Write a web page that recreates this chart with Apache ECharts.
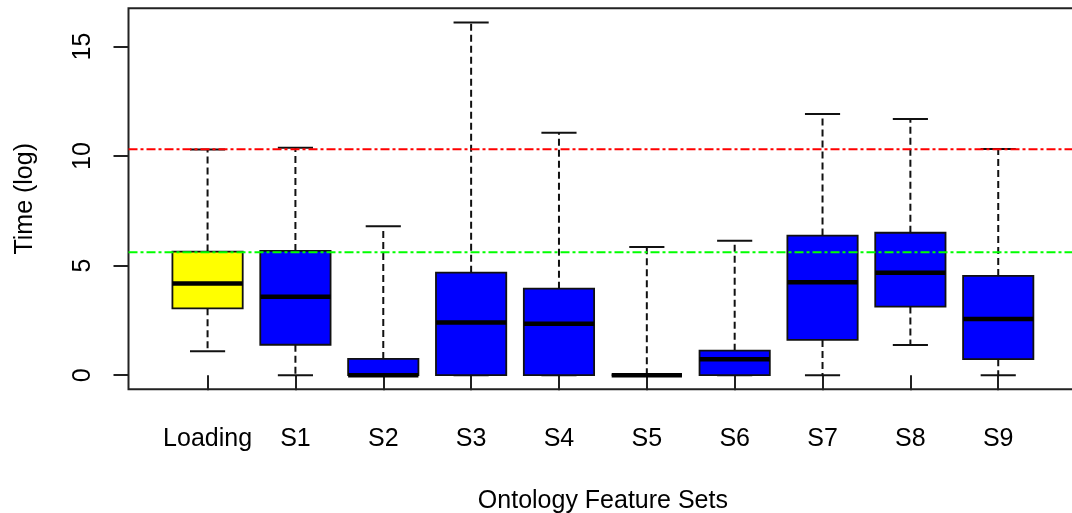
<!DOCTYPE html>
<html>
<head>
<meta charset="utf-8">
<script src="https://cdn.jsdelivr.net/npm/echarts@6/dist/echarts.min.js"></script>
<style>
html,body{margin:0;padding:0;background:#fff;}
#chart{width:1072px;height:513px;}
</style>
</head>
<body>
<div id="chart"></div>
<script>
// ---- data ----
const categories = ['Loading','S1','S2','S3','S4','S5','S6','S7','S8','S9'];
const lowerWhisker = [1.09, 0, 0, 0, 0, 0, 0, 0, 1.38, 0];
const q1Values     = [3.05, 1.39, 0, 0, 0, 0, 0, 1.61, 3.13, 0.73];
const medianValues = [4.18, 3.58, 0, 2.41, 2.35, 0, 0.73, 4.24, 4.68, 2.56];
const q3Values     = [5.64, 5.67, 0.74, 4.68, 3.95, 0, 1.12, 6.37, 6.50, 4.53];
const upperWhisker = [10.30, 10.38, 6.80, 16.10, 11.06, 5.85, 6.13, 11.92, 11.69, 10.32];
const redLineValue = [10.31];
const greenLineValue = [5.61];
const yTickValues = [0, 5, 10, 15];

// R-style axis ranges (data range extended by 4%)
const dataMin = Math.min(...lowerWhisker), dataMax = Math.max(...upperWhisker);
const yPad = (dataMax - dataMin) * 0.04;
const xPad = categories.length * 0.04;

const boxData = categories.map((c, i) => [i + 1, lowerWhisker[i], q1Values[i], medianValues[i], q3Values[i], upperWhisker[i]]);
const xTickValues = categories.map((c, i) => i + 1);

const chart = echarts.init(document.getElementById('chart'), null, {renderer: 'canvas'});
const FONT = 'Liberation Sans, Arial, sans-serif';

function renderBox(params, api) {
  const x = api.value(0);
  const lo = api.value(1), q1 = api.value(2), med = api.value(3), q3 = api.value(4), hi = api.value(5);
  const unit = api.size([1, 0])[0];
  const halfBox = unit * 0.4, halfCap = unit * 0.2;
  const P = v => api.coord([x, v]);
  const pLo = P(lo), pQ1 = P(q1), pMed = P(med), pQ3 = P(q3), pHi = P(hi);
  const cx = pMed[0];
  const dash = {stroke: '#111', lineWidth: 2, lineDash: [7, 4], fill: null};
  const solid = {stroke: '#111', lineWidth: 2, fill: null};
  const fillColor = params.dataIndex === 0 ? '#FFFF00' : '#0000FF';
  const children = [];
  if (hi > q3) children.push({type: 'line', shape: {x1: cx, y1: pQ3[1], x2: cx, y2: pHi[1]}, style: dash});
  if (lo < q1) children.push({type: 'line', shape: {x1: cx, y1: pQ1[1], x2: cx, y2: pLo[1]}, style: dash});
  children.push({type: 'line', shape: {x1: cx - halfCap, y1: pHi[1], x2: cx + halfCap, y2: pHi[1]}, style: solid});
  children.push({type: 'line', shape: {x1: cx - halfCap, y1: pLo[1], x2: cx + halfCap, y2: pLo[1]}, style: solid});
  children.push({type: 'rect', shape: {x: cx - halfBox, y: pQ3[1], width: halfBox * 2, height: pQ1[1] - pQ3[1]},
    style: {fill: fillColor, stroke: '#111', lineWidth: 1.8}});
  children.push({type: 'line', shape: {x1: cx - halfBox, y1: pMed[1], x2: cx + halfBox, y2: pMed[1]},
    style: {stroke: '#000', lineWidth: 4.5, fill: null}});
  return {type: 'group', children};
}

function refLine(color) {
  return function (params, api) {
    const cs = params.coordSys;
    const y = api.coord([1, api.value(0)])[1];
    return {type: 'line', shape: {x1: cs.x, y1: y, x2: cs.x + cs.width, y2: y},
      style: {stroke: color, lineWidth: 2, lineDash: [9, 3, 3, 3], fill: null}};
  };
}

const option = {
  animation: false,
  backgroundColor: '#fff',
  grid: {left: 128.5, right: -5.3, top: 8.3, bottom: 123.7, containLabel: false, outerBoundsMode: 'none',
    show: true, borderColor: '#222', borderWidth: 2, backgroundColor: 'transparent'},
  xAxis: {
    type: 'value', min: 1 - 0.5 - xPad, max: categories.length + 0.5 + xPad,
    splitLine: {show: false}, axisLine: {show: false},
    axisTick: {show: true, length: 15, customValues: xTickValues, lineStyle: {color: '#222', width: 2}},
    axisLabel: {customValues: xTickValues, formatter: v => categories[Math.round(v) - 1] || '', margin: 37,
      fontFamily: FONT, fontSize: 25, color: '#000'},
    name: 'Ontology Feature Sets', nameLocation: 'middle', nameGap: 99,
    nameTextStyle: {fontFamily: FONT, fontSize: 25, color: '#000'}
  },
  yAxis: {
    type: 'value', min: dataMin - yPad, max: dataMax + yPad,
    splitLine: {show: false}, axisLine: {show: false},
    axisTick: {show: true, length: 15, customValues: yTickValues, lineStyle: {color: '#222', width: 2}},
    axisLabel: {customValues: yTickValues, rotate: 90, margin: 33, fontFamily: FONT, fontSize: 25, color: '#000'},
    name: 'Time (log)', nameLocation: 'middle', nameGap: 91, nameRotate: 90,
    nameTextStyle: {fontFamily: FONT, fontSize: 25, color: '#000'}
  },
  series: [
    {type: 'custom', renderItem: renderBox, data: boxData, z: 2, clip: false},
    {type: 'custom', renderItem: refLine('#FF0000'), data: redLineValue.map(v => [v]), z: 5},
    {type: 'custom', renderItem: refLine('#00FF00'), data: greenLineValue.map(v => [v]), z: 5}
  ]
};
chart.setOption(option);
</script>
</body>
</html>
